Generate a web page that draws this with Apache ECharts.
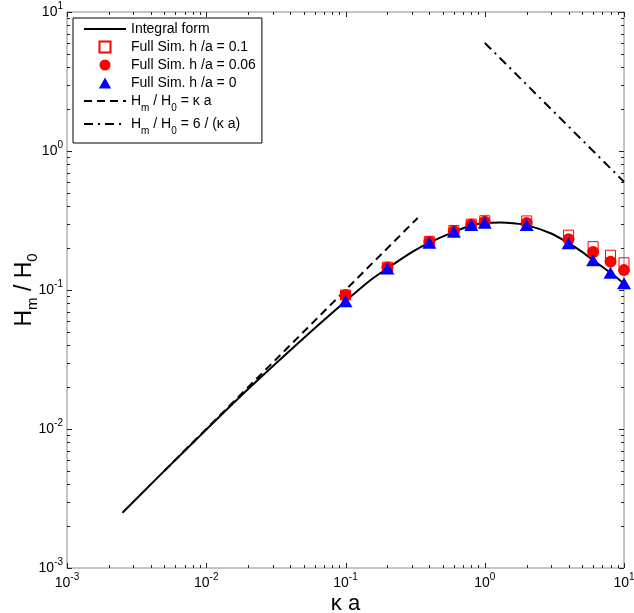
<!DOCTYPE html>
<html>
<head>
<meta charset="utf-8">
<script src="https://cdn.jsdelivr.net/npm/echarts@6/dist/echarts.min.js"></script>
<style>
  html, body { margin: 0; padding: 0; background: #ffffff; }
  #chart { width: 634px; height: 613px; }
</style>
</head>
<body>
<div id="chart"></div>
<script>
// ---------- data ----------
const integralX = [0.0025, 0.005, 0.01, 0.02, 0.05, 0.1, 0.15, 0.2, 0.3, 0.4, 0.6, 0.8, 1.0, 1.3, 1.6, 2, 3, 4, 5, 6, 8, 10];
const integralY = [0.0025, 0.005, 0.0099, 0.0194, 0.045, 0.083, 0.117, 0.143, 0.187, 0.219, 0.262, 0.291, 0.303, 0.306, 0.302, 0.293, 0.255, 0.217, 0.188, 0.164, 0.133, 0.111];

const simX = [0.1, 0.2, 0.4, 0.6, 0.8, 1, 2, 4, 6, 8, 10];
const sim010 = [0.092, 0.146, 0.224, 0.268, 0.298, 0.315, 0.314, 0.248, 0.205, 0.178, 0.157];
const sim006 = [0.092, 0.145, 0.222, 0.265, 0.295, 0.310, 0.304, 0.232, 0.188, 0.160, 0.139];
const sim000 = [0.083, 0.143, 0.219, 0.262, 0.293, 0.305, 0.293, 0.217, 0.164, 0.133, 0.112];

const smallAsymX = [0.005, 0.33];
const smallAsymY = [0.005, 0.33];
const largeAsymX = [1, 10];
const largeAsymY = [6, 0.6];

const xMajorTicks = [0.001, 0.01, 0.1, 1, 10];
const xMinorTicks = [0.002, 0.003, 0.004, 0.005, 0.006, 0.007, 0.008, 0.009,
                     0.02, 0.03, 0.04, 0.05, 0.06, 0.07, 0.08, 0.09,
                     0.2, 0.3, 0.4, 0.5, 0.6, 0.7, 0.8, 0.9,
                     2, 3, 4, 5, 6, 7, 8, 9];
const yMajorTicks = [0.001, 0.01, 0.1, 1, 10];
const yMinorTicks = xMinorTicks;

const seriesNames = [
  'Integral form',
  'Full Sim. h /a = 0.1',
  'Full Sim. h /a = 0.06',
  'Full Sim. h /a = 0',
  'Hm / H0 = κ a',
  'Hm / H0 = 6 / (κ a)'
];

// ---------- helpers ----------
function zip(xs, ys) { return xs.map((x, i) => [x, ys[i]]); }
const FONT = '"Liberation Sans", Arial, Helvetica, sans-serif';

function powLabel(v) {
  const e = Math.round(Math.log10(v));
  return '{b|10}{s|' + e + '}';
}
const tickRich = {
  b: { fontSize: 14, lineHeight: 15, verticalAlign: 'bottom', color: '#000', fontFamily: FONT },
  s: { fontSize: 10, lineHeight: 10, padding: [0, 0, 8, 0], verticalAlign: 'bottom', color: '#000', fontFamily: FONT }
};

const SQUARE_ICON = 'path://M0,0L10,0L10,10L0,10Z';
const TRIANGLE_ICON = 'path://M5,0L10,9L0,9Z';

const chart = echarts.init(document.getElementById('chart'), null, { renderer: 'canvas' });

const option = {
  backgroundColor: '#ffffff',
  animation: false,
  textStyle: { fontFamily: FONT },
  grid: {
    left: 67, right: 10, top: 12, bottom: 45,
    containLabel: false,
    outerBoundsMode: 'none',
    show: true, borderColor: '#8a8a8a', borderWidth: 1, backgroundColor: 'transparent'
  },
  legend: {
    orient: 'vertical',
    left: 73, top: 18,
    padding: [4, 6, 7, 10],
    itemGap: 4,
    itemWidth: 42,
    itemHeight: 11,
    itemTextGap: 6,
    symbolKeepAspect: true,
    borderColor: '#000', borderWidth: 1,
    backgroundColor: '#ffffff',
    data: [
      { name: seriesNames[0] },
      { name: seriesNames[1], icon: SQUARE_ICON, symbolKeepAspect: true },
      { name: seriesNames[2] },
      { name: seriesNames[3], icon: TRIANGLE_ICON, symbolKeepAspect: true },
      { name: seriesNames[4] },
      { name: seriesNames[5] }
    ],
    formatter: function (name) {
      if (name === seriesNames[4]) return '{n|H}{sub|m}{n| / H}{sub|0}{n| = κ a}';
      if (name === seriesNames[5]) return '{n|H}{sub|m}{n| / H}{sub|0}{n| = 6 / (κ a)}';
      return '{n|' + name + '}';
    },
    textStyle: {
      color: '#000',
      fontFamily: FONT,
      fontSize: 14,
      rich: {
        n: { fontSize: 14, lineHeight: 14, verticalAlign: 'top', color: '#000', fontFamily: FONT },
        sub: { fontSize: 10, lineHeight: 10, padding: [9, 0, 0, 0], verticalAlign: 'top', color: '#000', fontFamily: FONT }
      }
    }
  },
  xAxis: {
    type: 'log', logBase: 10, min: 0.001, max: 10,
    name: 'κ a',
    nameLocation: 'middle',
    nameGap: 25,
    nameMoveOverlap: false,
    nameTextStyle: { fontSize: 22, color: '#000', fontFamily: FONT },
    axisLine: { show: false },
    axisTick: { show: false },
    splitLine: { show: false },
    minorTick: { show: false },
    axisLabel: {
      margin: 7, formatter: powLabel, rich: tickRich,
      showMinLabel: true, showMaxLabel: true
    }
  },
  yAxis: {
    type: 'log', logBase: 10, min: 0.001, max: 10,
    name: '{n|H}{sub|m}{n| / H}{sub|0}',
    nameLocation: 'middle',
    nameGap: 31,
    nameMoveOverlap: false,
    nameRotate: 90,
    nameTextStyle: {
      fontFamily: FONT, color: '#000',
      rich: {
        n: { fontSize: 23, lineHeight: 23, verticalAlign: 'top', color: '#000', fontFamily: FONT },
        sub: { fontSize: 15, lineHeight: 15, padding: [12, 0, 0, 0], verticalAlign: 'top', color: '#000', fontFamily: FONT }
      }
    },
    axisLine: { show: false },
    axisTick: { show: false },
    splitLine: { show: false },
    minorTick: { show: false },
    axisLabel: {
      margin: 4, formatter: powLabel, rich: tickRich,
      showMinLabel: true, showMaxLabel: true
    }
  },
  series: [
    {
      name: seriesNames[0], type: 'line', data: zip(integralX, integralY),
      symbol: 'none', smooth: 0.3,
      lineStyle: { color: '#000', width: 2 }, itemStyle: { color: 'rgba(0,0,0,0)' }, z: 2
    },
    {
      name: seriesNames[1], type: 'scatter', data: zip(simX, sim010),
      symbol: 'rect', symbolSize: 10,
      itemStyle: { color: 'rgba(255,255,255,0)', borderColor: '#ff0000', borderWidth: 1, opacity: 1 }, z: 3
    },
    {
      name: seriesNames[2], type: 'scatter', data: zip(simX, sim006),
      symbol: 'circle', symbolSize: 12,
      itemStyle: { color: '#ff0000', opacity: 1 }, z: 4
    },
    {
      name: seriesNames[3], type: 'scatter', data: zip(simX, sim000),
      symbol: 'triangle', symbolSize: [14, 12],
      itemStyle: { color: '#0000ff', opacity: 1 }, z: 5
    },
    {
      name: seriesNames[4], type: 'line', data: zip(smallAsymX, smallAsymY),
      symbol: 'none',
      lineStyle: { color: '#000', width: 2, type: [8, 5] }, itemStyle: { color: 'rgba(0,0,0,0)' }, z: 2
    },
    {
      name: seriesNames[5], type: 'line', data: zip(largeAsymX, largeAsymY),
      symbol: 'none',
      lineStyle: { color: '#000', width: 2, type: [9, 5, 2, 5] }, itemStyle: { color: 'rgba(0,0,0,0)' }, z: 2
    },
    {
      name: 'ticks', type: 'custom', silent: true, z: 10,
      data: [[1, 1]],
      renderItem: function (params, api) {
        const cs = params.coordSys;
        const L = cs.x, R = cs.x + cs.width, T = cs.y, B = cs.y + cs.height;
        const kids = [];
        function seg(x1, y1, x2, y2) {
          kids.push({ type: 'line', shape: { x1: x1, y1: y1, x2: x2, y2: y2 },
            style: { stroke: '#222', lineWidth: 1 } });
        }
        function xt(v, len) {
          const px = Math.round(api.coord([v, 1])[0]) + 0.5;
          seg(px, B, px, B - len); seg(px, T, px, T + len);
        }
        function yt(v, len) {
          const py = Math.round(api.coord([1, v])[1]) + 0.5;
          seg(L, py, L + len, py); seg(R, py, R - len, py);
        }
        xMajorTicks.forEach(v => xt(v, 5));
        xMinorTicks.forEach(v => xt(v, 3));
        yMajorTicks.forEach(v => yt(v, 5));
        yMinorTicks.forEach(v => yt(v, 3));
        return { type: 'group', children: kids };
      }
    }
  ]
};

chart.setOption(option);
</script>
</body>
</html>
